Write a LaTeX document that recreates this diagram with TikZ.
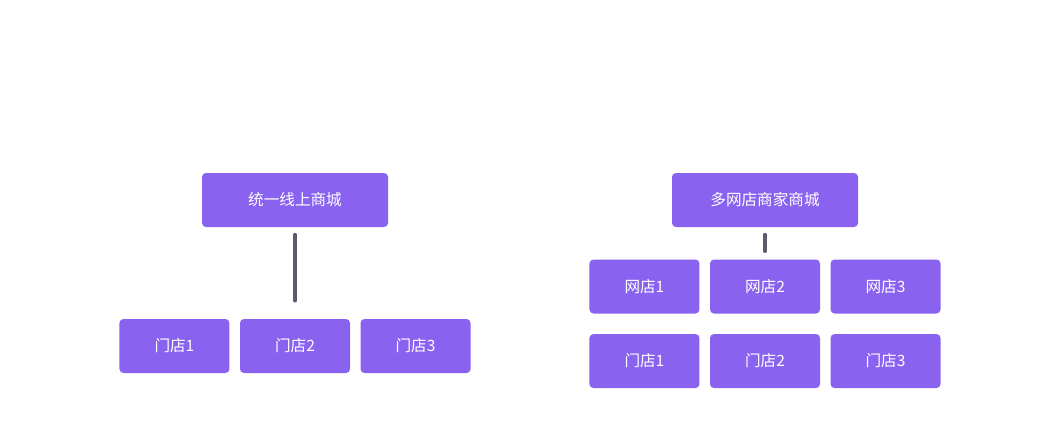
\documentclass[tikz,border=0pt]{standalone}
\usepackage{fontspec}
\setmainfont{Noto Sans CJK SC}
\usetikzlibrary{positioning}
\definecolor{boxfill}{HTML}{8A62F0}
\definecolor{linkgray}{HTML}{5E5A6C}
\tikzset{
  mallbox/.style={fill=boxfill,rounded corners=3pt,text=white,font=\fontsize{11.7pt}{14pt}\selectfont,
    minimum width=139.5pt,minimum height=40.5pt,inner sep=0pt},
  shopbox/.style={mallbox,minimum width=82.5pt},
  link/.style={draw=linkgray,line width=2.6pt,line cap=round}
}
\begin{document}
\begin{tikzpicture}[x=0.75pt,y=-0.75pt]
   \useasboundingbox[fill=white] (0,0) rectangle (1060,440);
   % left
   \node[mallbox] (mallA) at (295,200) {统一线上商城};
   \node[shopbox] (storeA2) at (295,346) {门店2};
   \node[shopbox,left=7.5pt of storeA2] (storeA1) {门店1};
   \node[shopbox,right=7.5pt of storeA2] (storeA3) {门店3};
   \draw[link,shorten <=5.5pt,shorten >=13.5pt] (mallA.south) -- (mallA.south |- storeA2.north);
   % right
   \node[mallbox] (mallB) at (765,200) {多网店商家商城};
   \node[shopbox] (webB2) at (765,286.5) {网店2};
   \node[shopbox,left=7.5pt of webB2] (webB1) {网店1};
   \node[shopbox,right=7.5pt of webB2] (webB3) {网店3};
   \node[shopbox,below=15pt of webB2] (storeB2) {门店2};
   \node[shopbox,left=7.5pt of storeB2] (storeB1) {门店1};
   \node[shopbox,right=7.5pt of storeB2] (storeB3) {门店3};
   \draw[link,shorten <=5.5pt,shorten >=6pt] (mallB.south) -- (mallB.south |- webB2.north);
\end{tikzpicture}
\end{document}
